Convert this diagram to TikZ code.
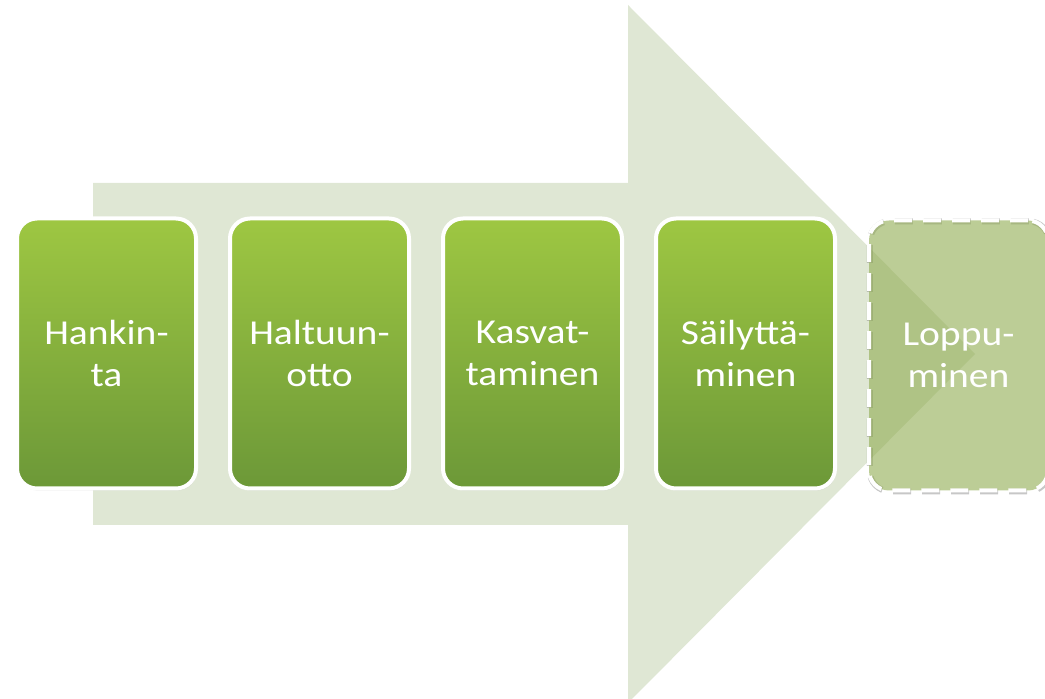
\documentclass[tikz,border=0pt]{standalone}
\usepackage{fontspec}
\setmainfont{Carlito}[FakeStretch=1.13]
\usepackage{xcolor}
\usepackage{tikz}
\usetikzlibrary{positioning,shadows}
\definecolor{arrowbg}{RGB}{223,231,212}
\definecolor{stagetop}{RGB}{158,199,66}
\definecolor{stagebot}{RGB}{108,152,56}
\definecolor{endfill}{RGB}{147,174,86}

\begin{document}
\begin{tikzpicture}[
    x=1pt, y=1pt,
    node distance=30pt,  % gap between the stage boxes
    base/.style = {draw=white, line width=4pt, rounded corners=20pt,
      minimum width=179pt, minimum height=270pt,
      text=white, align=center, font=\fontsize{35}{42}\selectfont},
    stage/.style = {base, top color=stagetop, bottom color=stagebot,
      drop shadow={shadow xshift=1pt, shadow yshift=-2pt, opacity=0.25}},
    ending/.style = {base, dash pattern=on 18pt off 11pt,
      preaction={draw=black, draw opacity=0.22, line width=6pt,
        dash pattern=on 18pt off 11pt, transform canvas={shift={(0.8pt,-0.8pt)}}},
      fill=endfill, fill opacity=0.62, text opacity=1}
  ]
    \clip (0,0) rectangle (1045,699);
    % big background arrow
    \fill[arrowbg] (93,516) -- (628,516) -- (628,694) -- (975,345)
      -- (628,-4) -- (628,174) -- (93,174) -- cycle;

    \node[stage] (hankinta) at (106.5,345.5) {Hankin-\\ta};
    \node[stage] (haltuunotto) [right=of hankinta] {Haltuun-\\otto};
    \node[stage] (kasvattaminen) [right=of haltuunotto] {Kasvat-\\taminen};
    \node[stage] (sailyttaminen) [right=of kasvattaminen] {Säilyttä-\\minen};
    \node[ending] (loppuminen) [right=of sailyttaminen, yshift=-2pt] {Loppu-\\minen};
\end{tikzpicture}
\end{document}
